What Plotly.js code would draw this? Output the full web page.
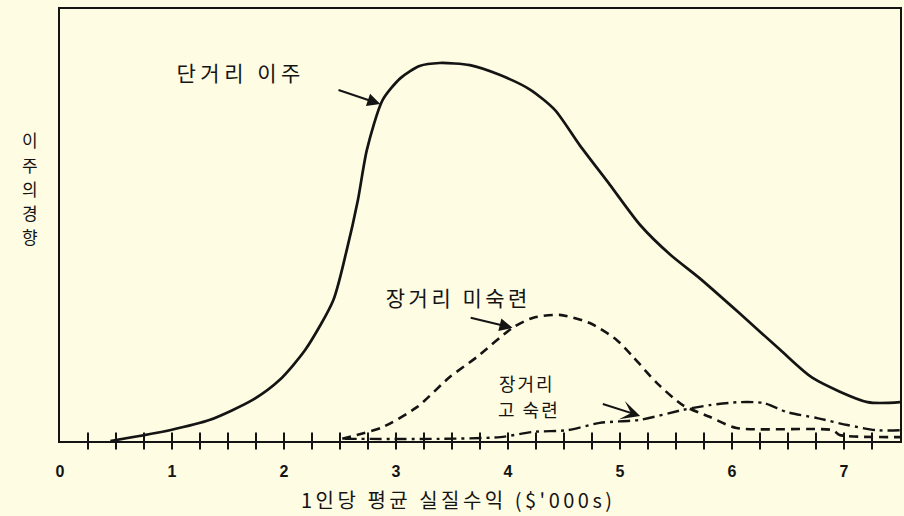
<!DOCTYPE html>
<html>
<head>
<meta charset="utf-8">
<script src="https://cdn.plot.ly/plotly-3.0.1.min.js"></script>
<style>
  html, body { margin: 0; padding: 0; background: #FEFCE2; }
  #chart { width: 904px; height: 516px; }
</style>
</head>
<body>
<div id="chart"></div>
<script>
// ---- data ----
const shortX = [0.45, 0.98, 1.34, 1.72, 1.96, 2.19, 2.44, 2.56, 2.66, 2.74, 2.88, 3.04, 3.21, 3.39, 3.66, 3.93, 4.20, 4.42, 4.64, 4.91, 5.18, 5.45, 5.71, 6.07, 6.43, 6.72, 7.21, 7.50];
const shortY = [0.0, 2.5, 4.9, 9.5, 14.1, 21.1, 32.6, 44.2, 55.8, 67.4, 78.9, 84.0, 86.8, 87.5, 87.0, 84.7, 81.3, 76.6, 68.5, 59.3, 50.0, 43.1, 37.7, 29.5, 21.1, 14.6, 9.0, 9.0];
const unskX = [2.52, 2.65, 2.88, 3.19, 3.48, 3.72, 4.04, 4.22, 4.46, 4.73, 4.97, 5.12, 5.33, 5.56, 5.80, 6.04, 6.90, 6.96, 7.50];
const unskY = [0.5, 1.4, 3.2, 7.9, 14.8, 19.4, 26.2, 28.5, 29.2, 27.3, 23.4, 19.4, 13.4, 8.3, 5.6, 3.0, 2.5, 1.4, 0.9];
const skX = [2.54, 3.39, 3.93, 4.22, 4.53, 4.82, 5.18, 5.56, 5.80, 6.07, 6.28, 6.49, 6.76, 7.03, 7.29, 7.50];
const skY = [0.5, 0.5, 0.9, 2.1, 2.5, 4.2, 4.9, 7.2, 8.3, 9.0, 8.8, 6.7, 5.3, 3.7, 2.5, 2.5];

const tickVals = [0, 1, 2, 3, 4, 5, 6, 7];
const tickText = ['0', '1', '2', '3', '4', '5', '6', '7'];
// quarter-unit tick marks crossing the x axis line
const tickMarks = [0.25, 0.5, 0.75, 1, 1.25, 1.5, 1.75, 2, 2.25, 2.5, 2.75, 3, 3.25, 3.5, 3.75, 4, 4.25, 4.5, 4.75, 5, 5.25, 5.5, 5.75, 6, 6.25, 6.5, 6.75, 7, 7.25];

const xTitle = "1인당 평균 실질수익 ($'000s)";
const yTitleChars = ['이', '주', '의', '경', '향'];
const labelShort = '단거리 이주';
const labelUnsk = '장거리 미숙련';
const labelSk = ['장거리', '고 숙련'];

// ---- chart ----
const INK = '#141414';
const BG = '#FEFCE2';
const KFONT = '"Noto Sans CJK KR", "Noto Sans", sans-serif';

const traces = [
  { x: shortX, y: shortY, mode: 'lines', line: { color: INK, width: 2.7, shape: 'spline', smoothing: 0.7 }, hoverinfo: 'skip' },
  { x: unskX, y: unskY, mode: 'lines', line: { color: INK, width: 2.6, dash: '9px,6px', shape: 'spline', smoothing: 0.7 }, hoverinfo: 'skip' },
  { x: skX, y: skY, mode: 'lines', line: { color: INK, width: 2.4, dash: '12px,5px,3px,5px', shape: 'spline', smoothing: 0.7 }, hoverinfo: 'skip' },
  { x: tickMarks, y: tickMarks.map(function () { return 0; }), mode: 'markers', cliponaxis: false,
    marker: { symbol: 'line-ns', size: 12, color: INK, line: { color: INK, width: 2 } }, hoverinfo: 'skip' }
];

const tickFont = { family: '"Liberation Sans Narrow", "Liberation Sans", Arial, sans-serif', size: 16, color: INK, weight: 'bold' };

const yTitleAnn = yTitleChars.map(function (ch, i) {
  return { xref: 'paper', yref: 'paper', x: -0.036, y: (441 - (140 + i * 24)) / 432,
    xanchor: 'center', yanchor: 'middle', text: ch, showarrow: false, borderpad: 0,
    font: { family: KFONT, size: 17, color: INK } };
});

const layout = {
  width: 904, height: 516,
  margin: { l: 60, r: 4, t: 9, b: 75 },
  paper_bgcolor: BG, plot_bgcolor: BG,
  showlegend: false,
  xaxis: {
    range: [0, 7.5], showgrid: false, zeroline: false,
    showline: true, linecolor: INK, linewidth: 2, mirror: true,
    tickmode: 'array', tickvals: tickVals, ticktext: tickText,
    ticks: '', tickfont: tickFont, ticklabelstandoff: 15
  },
  yaxis: {
    range: [0, 100], showgrid: false, zeroline: false,
    showline: true, linecolor: INK, linewidth: 2, mirror: true,
    ticks: '', showticklabels: false
  },
  annotations: [
    { xref: 'x', yref: 'y', x: 1.61, y: 85.4, text: labelShort, showarrow: false,
      font: { family: KFONT, size: 21, color: INK } },
    { xref: 'x', yref: 'y', x: 2.86, y: 78.0, axref: 'x', ayref: 'y', ax: 2.46, ay: 81.5,
      text: ' ', showarrow: true, arrowhead: 2, arrowsize: 1.3, arrowwidth: 2, arrowcolor: INK, standoff: 0 },
    { xref: 'x', yref: 'y', x: 3.56, y: 33.3, text: labelUnsk, showarrow: false,
      font: { family: KFONT, size: 21, color: INK } },
    { xref: 'x', yref: 'y', x: 4.04, y: 26.2, axref: 'x', ayref: 'y', ax: 3.64, ay: 28.7,
      text: ' ', showarrow: true, arrowhead: 2, arrowsize: 1.3, arrowwidth: 2, arrowcolor: INK, standoff: 0 },
    { xref: 'x', yref: 'y', x: 3.93, y: 13.5, text: labelSk[0], showarrow: false, xanchor: 'left',
      font: { family: KFONT, size: 18, color: INK } },
    { xref: 'x', yref: 'y', x: 3.93, y: 7.5, text: labelSk[1], showarrow: false, xanchor: 'left',
      font: { family: KFONT, size: 18, color: INK } },
    { xref: 'x', yref: 'y', x: 5.18, y: 5.8, axref: 'x', ayref: 'y', ax: 4.82, ay: 8.8,
      text: ' ', showarrow: true, arrowhead: 3, arrowsize: 1.6, arrowwidth: 2, arrowcolor: INK, standoff: 0 },
    { xref: 'paper', yref: 'paper', x: (458 - 60) / 840, y: -0.136, yanchor: 'middle', text: xTitle, showarrow: false,
      font: { family: KFONT, size: 20, color: INK } }
  ].concat(yTitleAnn)
};

Plotly.newPlot('chart', traces, layout, { staticPlot: true, displayModeBar: false }).then(function () {
  document.querySelectorAll('.annotation-text').forEach(function (t) {
    const s = t.textContent;
    if (s === labelShort) t.style.letterSpacing = '4.5px';
    else if (s === labelUnsk) t.style.letterSpacing = '3.5px';
    else if (s === labelSk[0] || s === labelSk[1]) t.style.letterSpacing = '2px';
    else if (s === xTitle) t.style.letterSpacing = '3.5px';
  });
});
</script>
</body>
</html>
